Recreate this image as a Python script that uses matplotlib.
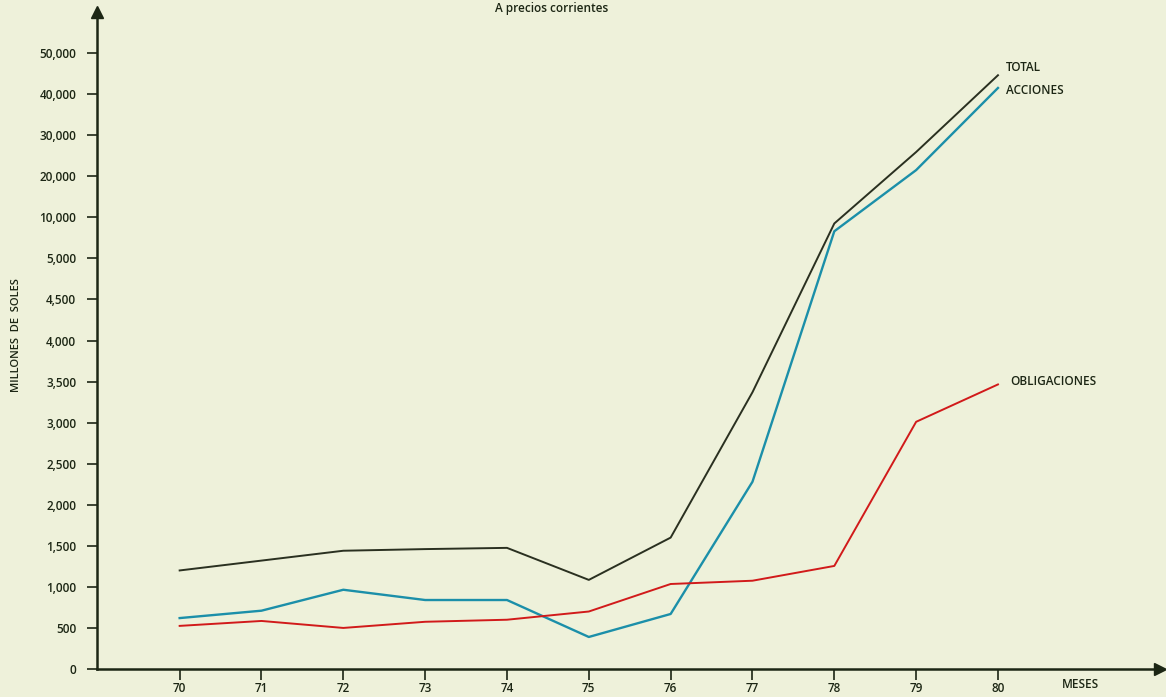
import numpy as np
import matplotlib
matplotlib.use("Agg")
import matplotlib.pyplot as plt

# datos (millones de soles)
anios = [70, 71, 72, 73, 74, 75, 76, 77, 78, 79, 80]
total = [1200, 1320, 1440, 1460, 1475, 1085, 1600, 3370, 9250, 25900, 44600]
acciones = [620, 710, 965, 840, 840, 390, 670, 2280, 8300, 21500, 41500]
obligaciones = [525, 585, 500, 575, 600, 700, 1035, 1075, 1255, 3010, 3465]

yticks = [0, 500, 1000, 1500, 2000, 2500, 3000, 3500, 4000, 4500,
          5000, 10000, 20000, 30000, 40000, 50000]
ytick_labels = ["0", "500", "1,000", "1,500", "2,000", "2,500", "3,000", "3,500",
                "4,000", "4,500", "5,000", "10,000", "20,000", "30,000",
                "40,000", "50,000"]

# escala no lineal: cada marca a la misma distancia
niveles = np.array(yticks + [60000], dtype=float)
pasos = np.arange(len(niveles), dtype=float)

def adelante(v):
    return np.interp(v, niveles, pasos)

def atras(p):
    return np.interp(p, pasos, niveles)

fondo = "#eef1da"
tinta = "#1c2614"
plt.rcParams['font.family'] = ['Open Sans', 'DejaVu Sans']
plt.rcParams['font.weight'] = 'semibold'

fig = plt.figure(figsize=(11.66, 6.97), dpi=100, facecolor=fondo)
ax = fig.add_axes([97/1166, 28/697, (1160-97)/1166, (669-12)/697])
ax.set_facecolor(fondo)
ax.set_yscale('function', functions=(adelante, atras))

ax.plot(anios, total, color="#2a3020", lw=1.4)
ax.plot(anios, acciones, color="#1b8fa9", lw=1.7)
ax.plot(anios, obligaciones, color="#d11a1a", lw=1.4)

ax.set_xlim(68.99, 81.98)
ax.set_ylim(0, atras((669-12)/41))

ax.set_yticks(yticks)
ax.set_yticklabels(ytick_labels)
ax.set_xticks(anios)
ax.set_xticklabels([str(a) for a in anios])
ax.minorticks_off()
ax.tick_params(axis='y', length=7, width=1.2, pad=8, labelsize=8.5, colors=tinta)
ax.tick_params(axis='x', length=8, width=1.2, pad=1.5, labelsize=8.5, colors=tinta)

for s in ['top', 'right']:
    ax.spines[s].set_visible(False)
for s in ['left', 'bottom']:
    ax.spines[s].set_linewidth(1.8)
    ax.spines[s].set_color(tinta)

ax.plot(1, 0, ">", color=tinta, ms=9, transform=ax.transAxes, clip_on=False)
ax.plot(0, 1, "^", color=tinta, ms=9, transform=ax.transAxes, clip_on=False)

ax.text(80.1, 46500, "TOTAL", fontsize=8.5, color=tinta, va='center')
ax.text(80.1, 41000, "ACCIONES", fontsize=8.5, color=tinta, va='center')
ax.text(80.15, 3500, "OBLIGACIONES", fontsize=8.5, color=tinta, va='center')

fig.text(1080/1166, 12/697, "MESES", fontsize=8.5, color=tinta, ha='center', va='center')
fig.text(17/1166, 362/697, "MILLONES  DE  SOLES", fontsize=8, color=tinta,
         rotation=90, ha='center', va='center')
fig.text(552/1166, 1 - 2/697, "A precios corrientes", fontsize=8.5, color=tinta,
         ha='center', va='top')

fig.savefig("out.png", dpi=100, facecolor=fondo)
